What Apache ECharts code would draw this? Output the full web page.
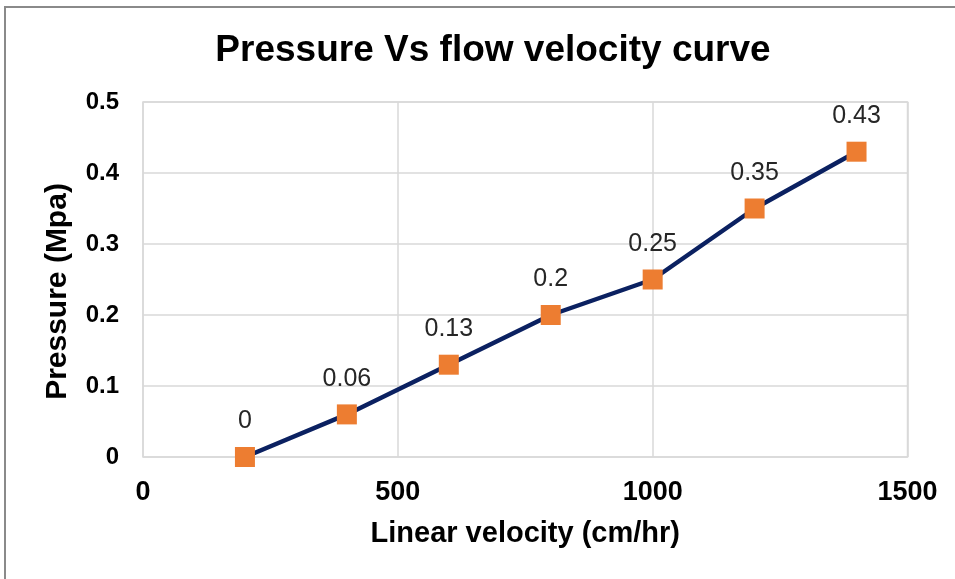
<!DOCTYPE html>
<html>
<head>
<meta charset="utf-8">
<script src="https://cdn.jsdelivr.net/npm/echarts@6/dist/echarts.min.js"></script>
<style>
html,body{margin:0;padding:0;background:#fff;overflow:hidden;}
#frame{position:absolute;left:4px;top:6px;width:1000px;height:700px;border-left:2px solid #8a8a8a;border-top:2px solid #8a8a8a;}
#chart{position:absolute;left:0;top:0;width:955px;height:579px;}
</style>
</head>
<body>
<div id="frame"></div>
<div id="chart"></div>
<script>
var velocity = [200, 400, 600, 800, 1000, 1200, 1400];
var pressure = [0, 0.06, 0.13, 0.2, 0.25, 0.35, 0.43];
var titleText = 'Pressure Vs flow velocity curve';
var xName = 'Linear velocity (cm/hr)';
var yName = 'Pressure (Mpa)';

var chart = echarts.init(document.getElementById('chart'));
var F = 'Liberation Sans, Arial, sans-serif';
chart.setOption({
  animation: false,
  backgroundColor: 'transparent',
  title: {
    text: titleText, left: 488, textAlign: 'center', top: 27,
    textStyle: {fontFamily: F, fontSize: 37, fontWeight: 'bold', color: '#000'}
  },
  grid: {left: 143, top: 102, right: 47.5, bottom: 122, show: true, borderColor: '#d9d9d9', borderWidth: 1.5},
  xAxis: {
    type: 'value', min: 0, max: 1500, interval: 500,
    name: xName, nameLocation: 'middle', nameGap: 62,
    nameTextStyle: {fontFamily: F, fontSize: 29, fontWeight: 'bold', color: '#000'},
    axisLine: {show: false}, axisTick: {show: false},
    axisLabel: {fontFamily: F, fontSize: 27, fontWeight: 'bold', color: '#000', margin: 22,
      formatter: function(v){ return String(v); }},
    splitLine: {show: true, lineStyle: {color: '#d9d9d9', width: 1.5}}
  },
  yAxis: {
    type: 'value', min: 0, max: 0.5, interval: 0.1,
    name: yName, nameLocation: 'middle', nameGap: 70, nameRotate: 90,
    nameTextStyle: {fontFamily: F, fontSize: 30, fontWeight: 'bold', color: '#000', padding: [0, 24, 0, 0]},
    axisLine: {show: false}, axisTick: {show: false},
    axisLabel: {fontFamily: F, fontSize: 24, fontWeight: 'bold', color: '#000', margin: 24},
    splitLine: {show: true, lineStyle: {color: '#d9d9d9', width: 1.5}}
  },
  series: [{
    type: 'line',
    data: velocity.map(function(v, i){ return [v, pressure[i]]; }),
    lineStyle: {color: '#0b2161', width: 4.5},
    symbol: 'rect', symbolSize: 20,
    itemStyle: {color: '#ED7D31'},
    label: {
      show: true, position: 'top', distance: 13,
      fontFamily: F, fontSize: 25, color: '#262626',
      formatter: function(p){ return String(p.value[1]); }
    }
  }]
});
</script>
</body>
</html>
